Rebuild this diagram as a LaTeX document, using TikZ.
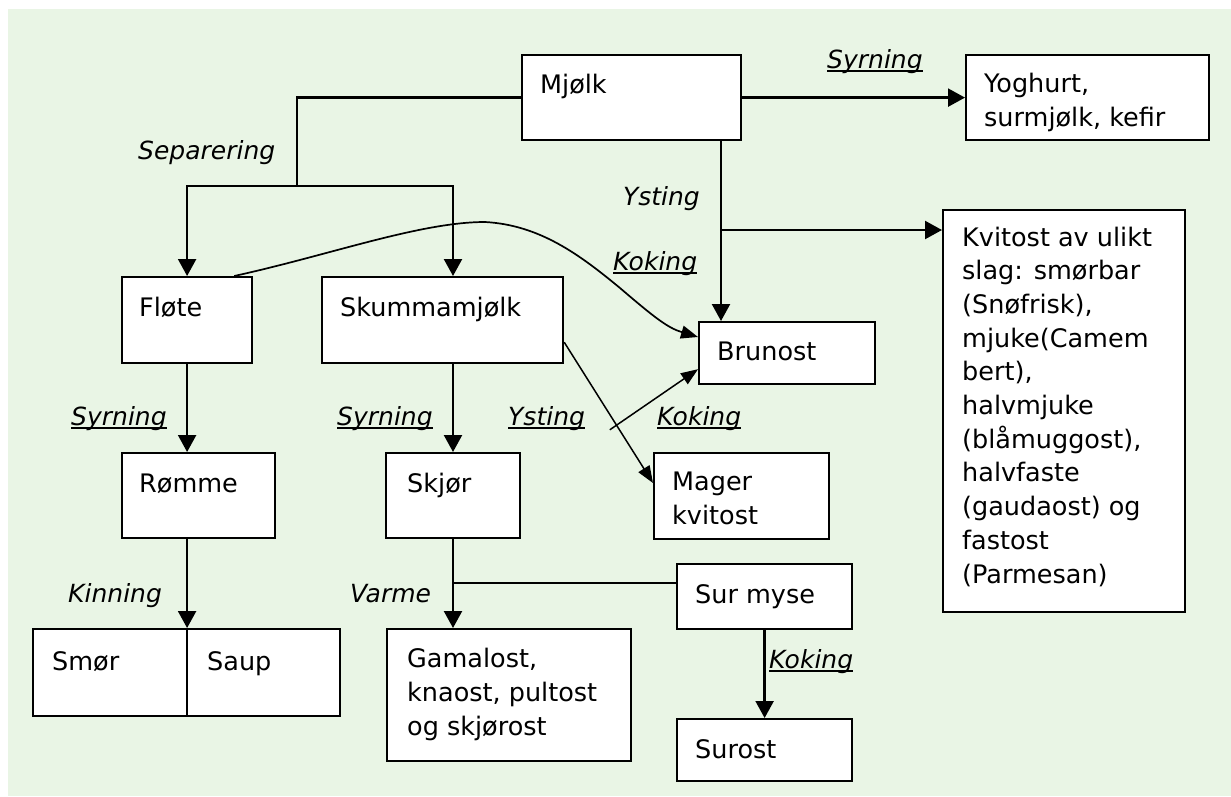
\documentclass[tikz,border=0pt]{standalone}
\usepackage{fontspec}
\setmainfont{DejaVu Sans}
\usetikzlibrary{arrows.meta,calc}
\definecolor{bggreen}{RGB}{233,245,229}
\newcommand\ulin[1]{\setbox0\hbox{#1}\rlap{\rule[-3.6pt]{\wd0}{1.5pt}}\box0}
\begin{document}
\begin{tikzpicture}[x=1pt,y=-1pt,
  box/.style={draw=black, line width=2.2pt, fill=white, rectangle, inner sep=0pt, anchor=north west},
  txt/.style={inner sep=0pt, anchor=base west, font=\fontsize{25.5}{30}\selectfont},
  lbl/.style={inner sep=0pt, anchor=base west, font=\fontsize{25}{30}\selectfont\itshape},
  conn/.style={line width=2.3pt, draw=black},
  arr/.style={conn, -{Triangle[width=18pt,length=17pt]}},
  thinarr/.style={line width=1.5pt, draw=black, -{Triangle[width=13pt,length=17pt]}}
]
\useasboundingbox (0,0) rectangle (1231,796);
\fill[bggreen] (8,9) rectangle (1231,796);

% boxes
\node[box, minimum width=219pt, minimum height=85pt] (mjolk) at (521,54) {};
\node[box, minimum width=243pt, minimum height=85pt] (yog) at (965,54) {};
\node[box, minimum width=242pt, minimum height=402pt] (kvit) at (942,209) {};
\node[box, minimum width=130pt, minimum height=86pt] (flote) at (121,276) {};
\node[box, minimum width=241pt, minimum height=86pt] (skum) at (321,276) {};
\node[box, minimum width=176pt, minimum height=62pt] (brun) at (698,321) {};
\node[box, minimum width=175pt, minimum height=86pt] (mager) at (653,452) {};
\node[box, minimum width=153pt, minimum height=85pt] (romme) at (121,452) {};
\node[box, minimum width=134pt, minimum height=85pt] (skjor) at (385,452) {};
\node[box, minimum width=154pt, minimum height=87pt] (smor) at (32,628) {};
\node[box, minimum width=153pt, minimum height=87pt] (saup) at (186,628) {};
\node[box, minimum width=244pt, minimum height=132pt] (gamal) at (386,628) {};
\node[box, minimum width=175pt, minimum height=65pt] (surmyse) at (676,563) {};
\node[box, minimum width=175pt, minimum height=62pt] (surost) at (676,718) {};

% box texts
\node[txt] (t1) at (540,93) {Mjølk};
\node[txt] (t2) at (984,92) {Yoghurt,};
\node[txt] (t3) at (984,126) {surmjølk, kefir};
\node[txt] (k1) at (962,246) {Kvitost av ulikt};
\node[txt] (k2) at (962,279.7) {slag: smørbar};
\node[txt] (k3) at (962,313.4) {(Snøfrisk),};
\node[txt] (k4) at (962,347.1) {mjuke(Camem};
\node[txt] (k5) at (962,380.8) {bert),};
\node[txt] (k6) at (962,414.5) {halvmjuke};
\node[txt] (k7) at (962,448.2) {(blåmuggost),};
\node[txt] (k8) at (962,481.9) {halvfaste};
\node[txt] (k9) at (962,515.6) {(gaudaost) og};
\node[txt] (k10) at (962,549.3) {fastost};
\node[txt] (k11) at (962,583) {(Parmesan)};
\node[txt] (t4) at (139,316) {Fløte};
\node[txt] (t5) at (340,316) {Skummamjølk};
\node[txt] (t6) at (717,360) {Brunost};
\node[txt] (t7) at (139,492) {Rømme};
\node[txt] (t8) at (407,492) {Skjør};
\node[txt] (t9) at (672,490) {Mager};
\node[txt] (t10) at (672,524) {kvitost};
\node[txt] (t11) at (52,670) {Smør};
\node[txt] (t12) at (207,670) {Saup};
\node[txt] (t13) at (407,667) {Gamalost,};
\node[txt] (t14) at (407,701) {knaost, pultost};
\node[txt] (t15) at (407,735) {og skjørost};
\node[txt] (t16) at (695,603) {Sur myse};
\node[txt] (t17) at (695,758) {Surost};

% labels
\node[lbl] (l1) at (827,68) {\ulin{Syrning}};
\node[lbl] (l2) at (138,159) {Separering};
\node[lbl, anchor=base east] (l3) at (700,205) {Ysting};
\node[lbl] (l4) at (613,270) {\ulin{Koking}};
\node[lbl] (l5) at (71,425) {\ulin{Syrning}};
\node[lbl] (l6) at (337,425) {\ulin{Syrning}};
\node[lbl] (l7) at (508,425) {\ulin{Ysting}};
\node[lbl] (l8) at (657,425) {\ulin{Koking}};
\node[lbl] (l9) at (68,602) {Kinning};
\node[lbl] (l10) at (350,602) {Varme};
\node[lbl] (l11) at (769,668) {\ulin{Koking}};

% connectors
\coordinate (sepj) at (297,186);
\coordinate (skumin) at ($(skum.north west)+(132,0)$);
\draw[conn] (mjolk.west) -| (sepj);
\draw[arr] (sepj) -| (flote.north);
\draw[arr] (sepj) -| (skumin);
\draw[arr] (mjolk.east) -- (yog.west);
\coordinate (yj) at (721,230);
\draw[arr] (yj |- mjolk.south) -- (yj |- brun.north);
\draw[arr] (yj) -- (yj -| kvit.west);
\draw[arr] (flote.south) -- (flote.south |- romme.north);
\draw[arr] (flote.south |- romme.south) -- (flote.south |- smor.north);
\draw[arr] (skumin |- skum.south) -- (skumin |- skjor.north);
\draw[arr] (skumin |- skjor.south) -- (skumin |- gamal.north);
\coordinate (vj) at (453,583);
\draw[conn] (vj) -- (vj -| surmyse.west);
\draw[arr] (surmyse.south) -- (surost.north);

\coordinate (cstart) at ($(flote.north east)+(-19,0)$);
\coordinate (cend) at ($(brun.north west)+(0,16)$);
\draw[line width=1.7pt, -{Triangle[width=13pt,length=17pt]}] (cstart) .. controls (330,255) and (420,222) .. (485,222) .. controls (540,225) and (580,255) .. (620,288) .. controls (655,318) and (668,328) .. (cend);

\coordinate (ds) at ($(skum.south east)+(0,-22)$);
\coordinate (de) at ($(mager.north west)+(0,31)$);
\draw[thinarr] (ds) -- (de);
\coordinate (dx) at ($(ds)!0.615!(de)$);
\draw[thinarr] ($(dx)+(-9,1)$) -- ($(brun.south west)+(0,-16)$);
\end{tikzpicture}
\end{document}
